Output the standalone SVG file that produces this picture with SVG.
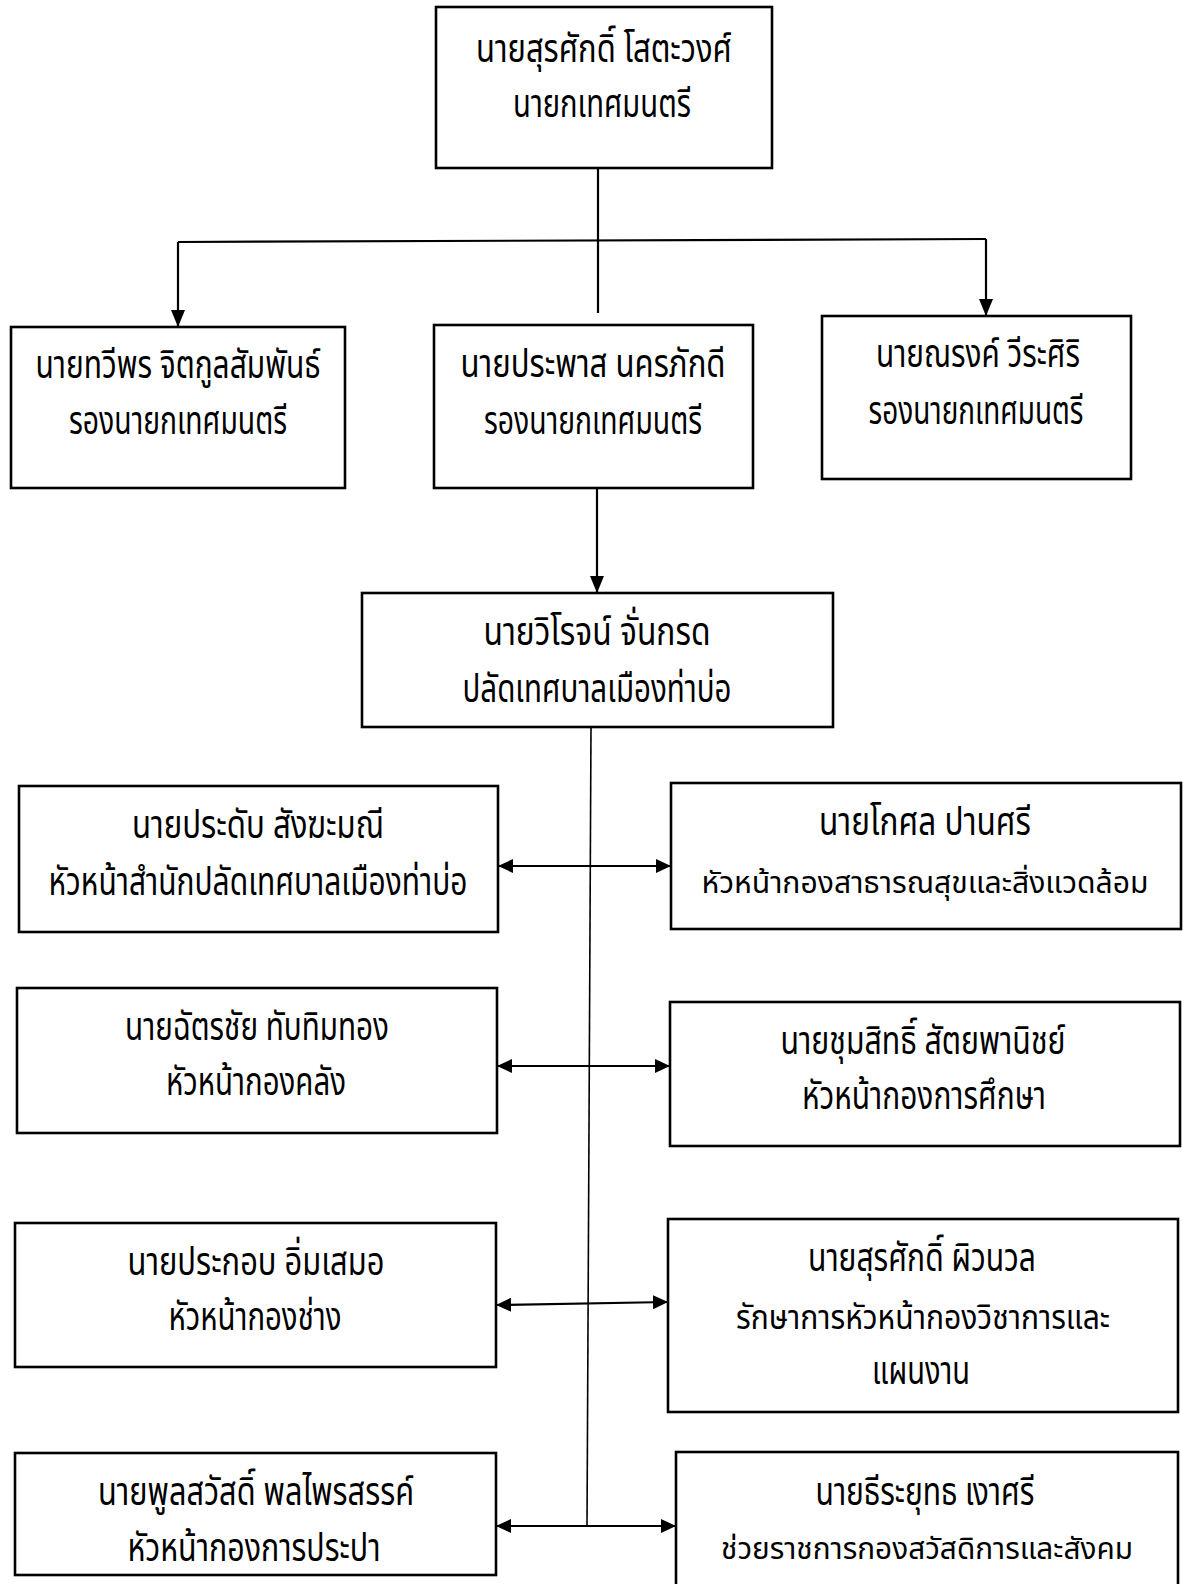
<svg xmlns="http://www.w3.org/2000/svg" width="1183" height="1584" viewBox="0 0 1183 1584">
<defs>
<style>
.box{fill:#fff;stroke:#000;stroke-width:2.6}
.t{font-family:"Noto Sans Thai","Noto Serif Thai","Loma","Garuda","Noto Sans","DejaVu Sans",sans-serif;font-size:40px;fill:#000;text-anchor:middle}
.s{font-size:34px}
.x{font-size:30px}
.c{fill:none;stroke:#000;stroke-width:2.2}
.sp{fill:none;stroke:#000;stroke-width:1.6}
</style>
<marker id="ah" viewBox="0 0 15 14" refX="15" refY="7" markerWidth="15" markerHeight="14" markerUnits="userSpaceOnUse" orient="auto-start-reverse">
<path d="M0,0 L15,7 L0,14 z" fill="#000"/>
</marker>
<marker id="ad" viewBox="0 0 17 14" refX="17" refY="7" markerWidth="17" markerHeight="14" markerUnits="userSpaceOnUse" orient="auto">
<path d="M0,0 L17,7 L0,14 z" fill="#000"/>
</marker>
</defs>
<rect width="1183" height="1584" fill="#fff"/>
<g id="connectors">
<path class="c" d="M598,168 V313"/>
<path class="c" d="M178,242 L986,239"/>
<path class="c" d="M178,242 V327" marker-end="url(#ad)"/>
<path class="c" d="M986,239 V316" marker-end="url(#ad)"/>
<path class="c" d="M597,488 V593" marker-end="url(#ad)"/>
<path class="sp" d="M591,727 L587,1526"/>
<path class="c" d="M498,866 H671" marker-start="url(#ah)" marker-end="url(#ah)"/>
<path class="c" d="M497,1066 H670" marker-start="url(#ah)" marker-end="url(#ah)"/>
<path class="c" d="M496,1305 L668,1302" marker-start="url(#ah)" marker-end="url(#ah)"/>
<path class="c" d="M496,1526 H676" marker-start="url(#ah)" marker-end="url(#ah)"/>
</g>
<g id="mayor">
<rect class="box" x="436" y="7" width="336" height="161"/>
<text class="t" x="604" y="62" textLength="256" lengthAdjust="spacingAndGlyphs">นายสุรศักดิ์ โสตะวงศ์</text>
<text class="t" x="602" y="117" textLength="178" lengthAdjust="spacingAndGlyphs">นายกเทศมนตรี</text>
</g>
<g id="deputy1">
<rect class="box" x="11" y="327" width="334" height="161"/>
<text class="t" x="178" y="378" textLength="285" lengthAdjust="spacingAndGlyphs">นายทวีพร จิตกูลสัมพันธ์</text>
<text class="t" x="178" y="434" textLength="218" lengthAdjust="spacingAndGlyphs">รองนายกเทศมนตรี</text>
</g>
<g id="deputy2">
<rect class="box" x="434" y="325" width="319" height="163"/>
<text class="t" x="593" y="377" textLength="265" lengthAdjust="spacingAndGlyphs">นายประพาส นครภักดี</text>
<text class="t" x="593" y="434" textLength="218" lengthAdjust="spacingAndGlyphs">รองนายกเทศมนตรี</text>
</g>
<g id="deputy3">
<rect class="box" x="822" y="316" width="309" height="163"/>
<text class="t" x="978" y="367" textLength="204" lengthAdjust="spacingAndGlyphs">นายณรงค์ วีระศิริ</text>
<text class="t" x="976" y="424" textLength="215" lengthAdjust="spacingAndGlyphs">รองนายกเทศมนตรี</text>
</g>
<g id="clerk">
<rect class="box" x="362" y="593" width="471" height="134"/>
<text class="t" x="597" y="645" textLength="227" lengthAdjust="spacingAndGlyphs">นายวิโรจน์ จั่นกรด</text>
<text class="t" x="597" y="702" textLength="269" lengthAdjust="spacingAndGlyphs">ปลัดเทศบาลเมืองท่าบ่อ</text>
</g>
<g id="office">
<rect class="box" x="19" y="786" width="479" height="146"/>
<text class="t" x="258" y="838" textLength="252" lengthAdjust="spacingAndGlyphs">นายประดับ สังฆะมณี</text>
<text class="t" x="258" y="895" textLength="419" lengthAdjust="spacingAndGlyphs">หัวหน้าสำนักปลัดเทศบาลเมืองท่าบ่อ</text>
</g>
<g id="health">
<rect class="box" x="671" y="783" width="510" height="146"/>
<text class="t" x="925" y="835" textLength="212" lengthAdjust="spacingAndGlyphs">นายโกศล ปานศรี</text>
<text class="t x" x="925" y="893" textLength="447" lengthAdjust="spacingAndGlyphs">หัวหน้ากองสาธารณสุขและสิ่งแวดล้อม</text>
</g>
<g id="finance">
<rect class="box" x="17" y="988" width="480" height="145"/>
<text class="t" x="257" y="1040" textLength="264" lengthAdjust="spacingAndGlyphs">นายฉัตรชัย ทับทิมทอง</text>
<text class="t" x="256" y="1095" textLength="180" lengthAdjust="spacingAndGlyphs">หัวหน้ากองคลัง</text>
</g>
<g id="education">
<rect class="box" x="670" y="1002" width="510" height="144"/>
<text class="t" x="923" y="1054" textLength="285" lengthAdjust="spacingAndGlyphs">นายชุมสิทธิ์ สัตยพานิชย์</text>
<text class="t" x="924" y="1109" textLength="244" lengthAdjust="spacingAndGlyphs">หัวหน้ากองการศึกษา</text>
</g>
<g id="engineering">
<rect class="box" x="15" y="1223" width="481" height="144"/>
<text class="t" x="256" y="1275" textLength="257" lengthAdjust="spacingAndGlyphs">นายประกอบ อิ่มเสมอ</text>
<text class="t" x="255" y="1330" textLength="173" lengthAdjust="spacingAndGlyphs">หัวหน้ากองช่าง</text>
</g>
<g id="planning">
<rect class="box" x="668" y="1219" width="510" height="193"/>
<text class="t" x="922" y="1271" textLength="228" lengthAdjust="spacingAndGlyphs">นายสุรศักดิ์ ผิวนวล</text>
<text class="t s" x="923" y="1329" textLength="374" lengthAdjust="spacingAndGlyphs">รักษาการหัวหน้ากองวิชาการและ</text>
<text class="t" x="921" y="1384" textLength="98" lengthAdjust="spacingAndGlyphs">แผนงาน</text>
</g>
<g id="waterworks">
<rect class="box" x="15" y="1453" width="481" height="122"/>
<text class="t" x="256" y="1505" textLength="316" lengthAdjust="spacingAndGlyphs">นายพูลสวัสดิ์ พลไพรสรรค์</text>
<text class="t" x="254" y="1561" textLength="253" lengthAdjust="spacingAndGlyphs">หัวหน้ากองการประปา</text>
</g>
<g id="welfare">
<rect class="box" x="676" y="1452" width="502" height="140"/>
<text class="t" x="925" y="1505" textLength="219" lengthAdjust="spacingAndGlyphs">นายธีระยุทธ เงาศรี</text>
<text class="t x" x="927" y="1559" textLength="412" lengthAdjust="spacingAndGlyphs">ช่วยราชการกองสวัสดิการและสังคม</text>
</g>
</svg>
